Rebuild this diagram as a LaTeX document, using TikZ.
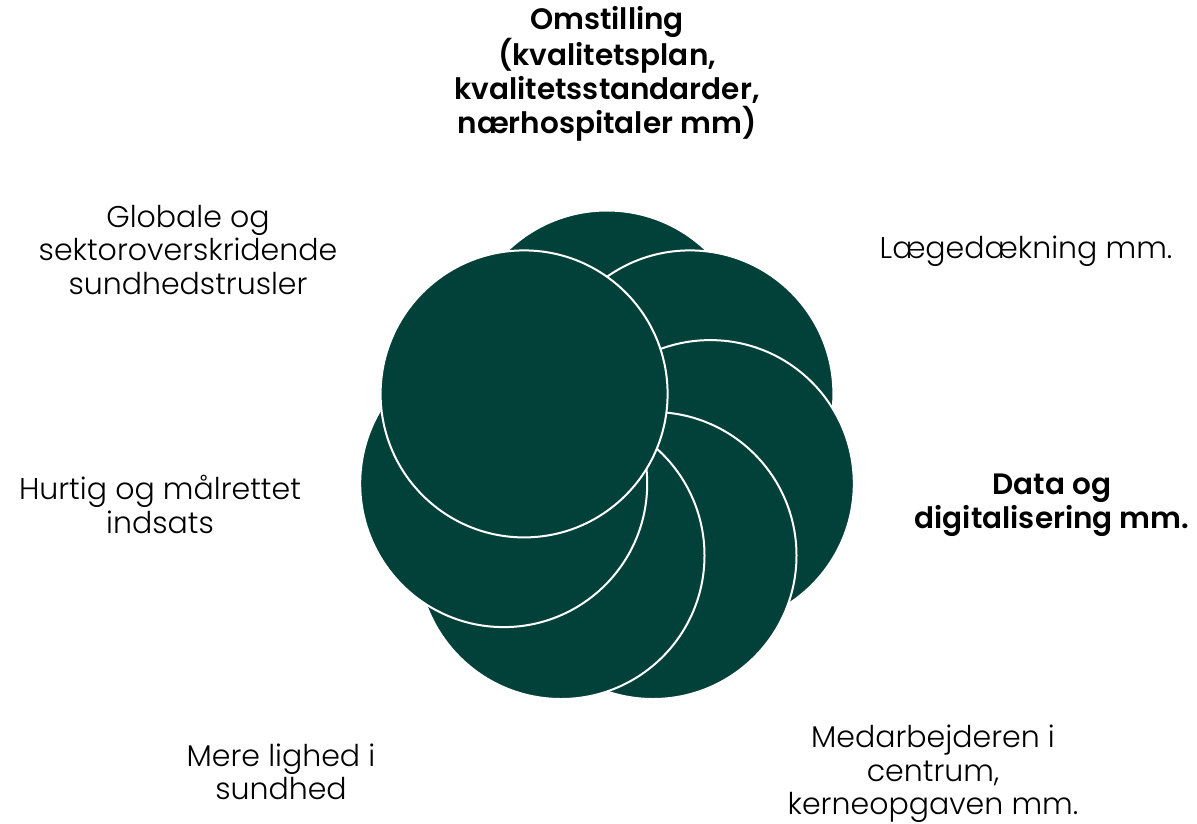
\documentclass[tikz,border=0pt]{standalone}
\usepackage{fontspec}
\setmainfont{Poppins}[UprightFont={* Light},BoldFont={* SemiBold}]
\definecolor{rosegreen}{HTML}{02413A}
\begin{document}
\begin{tikzpicture}[x=1pt,y=-1pt,
  petal/.style={circle,fill=rosegreen,draw=white,line width=2pt,minimum size=287pt,inner sep=0pt},
  lbl/.style={align=center,font=\fontsize{30}{33.5}\selectfont,text=black,inner sep=0pt},
  lblb/.style={lbl,font=\fontsize{29.5}{33.8}\selectfont\bfseries}]
\useasboundingbox (0,0) rectangle (1197,823);
\node[petal] (c1) at (607,354) {};
\node[petal] (c2) at (689.9,393.9) {};
\node[petal] (c3) at (710.3,483.6) {};
\node[petal] (c4) at (653.0,555.5) {};
\node[petal] (c5) at (561.0,555.5) {};
\node[petal] (c6) at (503.7,483.6) {};
\node[petal] (c7) at (524.1,393.9) {};
\node[lblb] (t1) at (607,73.5) {Omstilling\\(kvalitetsplan,\\kvalitetsstandarder,\\nærhospitaler mm)};
\node[lbl] (t2) at (1026,251) {Lægedækning mm.};
\node[lblb] (t3) at (1052,505.5) {Data og\\digitalisering mm.};
\node[lbl] (t4) at (933,774) {Medarbejderen i\\centrum,\\kerneopgaven mm.};
\node[lbl] (t5) at (281,772) {Mere lighed i\\sundhed};
\node[lbl] (t6) at (160,504.5) {Hurtig og målrettet\\indsats};
\node[lbl] (t7) at (188,250) {Globale og\\sektoroverskridende\\sundhedstrusler};
\end{tikzpicture}
\end{document}
